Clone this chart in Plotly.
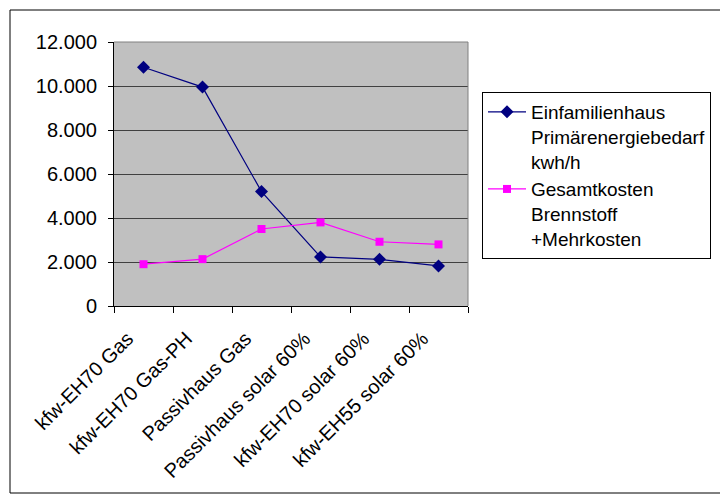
import plotly.graph_objects as go

categories = ["kfw-EH70 Gas", "kfw-EH70 Gas-PH", "Passivhaus Gas",
              "Passivhaus solar 60%", "kfw-EH70 solar 60%", "kfw-EH55 solar 60%"]
primaerenergie = [10850, 9950, 5200, 2230, 2120, 1820]
gesamtkosten = [1900, 2130, 3500, 3800, 2920, 2800]
series_names = ["Einfamilienhaus<br>Primärenergiebedarf<br>kwh/h",
                "Gesamtkosten<br>Brennstoff<br>+Mehrkosten"]
y_ticks = [0, 2000, 4000, 6000, 8000, 10000, 12000]

W, H = 720, 495
L, R, T, B = 114, 468, 42, 306

def px(x):
    return (x - L) / (R - L)

def py(y):
    return (B - y) / (B - T)

fig = go.Figure()
fig.add_trace(go.Scatter(
    x=categories, y=primaerenergie, name=series_names[0], mode="lines+markers",
    line=dict(color="#000080", width=1.2),
    marker=dict(symbol="diamond", size=10, color="#000080"),
))
fig.add_trace(go.Scatter(
    x=categories, y=gesamtkosten, name=series_names[1], mode="lines+markers",
    line=dict(color="#FF00FF", width=1.2),
    marker=dict(symbol="square", size=8, color="#FF00FF"),
))

font_family = "Liberation Sans, Arial, sans-serif"
FS = 20

border = dict(color="black", width=1)
fig.update_layout(
    width=W, height=H,
    margin=dict(l=L, r=W - R, t=T, b=H - B, autoexpand=False),
    paper_bgcolor="white",
    plot_bgcolor="#C0C0C0",
    separators=",.",
    font=dict(family=font_family, size=FS, color="black"),
    showlegend=True,
    legend=dict(
        x=px(482), y=py(92), xanchor="left", yanchor="top",
        bordercolor="black", borderwidth=1, bgcolor="white",
        font=dict(family=font_family, size=19, color="black"),
        valign="top", tracegroupgap=10, itemwidth=38,
    ),
    xaxis=dict(
        type="category", range=[-0.5, 5.5],
        showgrid=False, showline=True, linecolor="black", linewidth=1,
        ticks="outside", tickson="boundaries", ticklen=6, tickcolor="black",
        tickangle=-45, tickfont=dict(family=font_family, size=FS, color="black"),
        ticklabelshift=-16, ticklabelstandoff=12,
        mirror=False, zeroline=False,
    ),
    yaxis=dict(
        range=[0, 12000], tickvals=y_ticks, tickformat=",d",
        showgrid=True, gridcolor="#404040", gridwidth=1,
        showline=True, linecolor="black", linewidth=1,
        ticks="outside", ticklen=5, tickcolor="black",
        tickfont=dict(family=font_family, size=FS, color="black"),
        ticklabelstandoff=7,
        zeroline=False,
    ),
    shapes=[
        dict(type="line", xref="paper", yref="paper", x0=0, x1=1, y0=1, y1=1,
             line=dict(color="#808080", width=1)),
        dict(type="line", xref="paper", yref="paper", x0=1, x1=1, y0=0, y1=1,
             line=dict(color="#808080", width=1)),
        # outer chart border: left, top, bottom (right edge is outside the view)
        dict(type="line", xref="paper", yref="paper",
             x0=px(10), x1=px(10), y0=py(493), y1=py(10), line=border, layer="below"),
        dict(type="line", xref="paper", yref="paper",
             x0=px(10), x1=px(760), y0=py(10), y1=py(10), line=border, layer="below"),
        dict(type="line", xref="paper", yref="paper",
             x0=px(10), x1=px(760), y0=py(493), y1=py(493), line=border, layer="below"),
    ],
)

fig.write_html(
    "out.html",
    config={"displayModeBar": False},
    post_script="document.body.style.margin='0';document.body.style.overflow='hidden';",
)
